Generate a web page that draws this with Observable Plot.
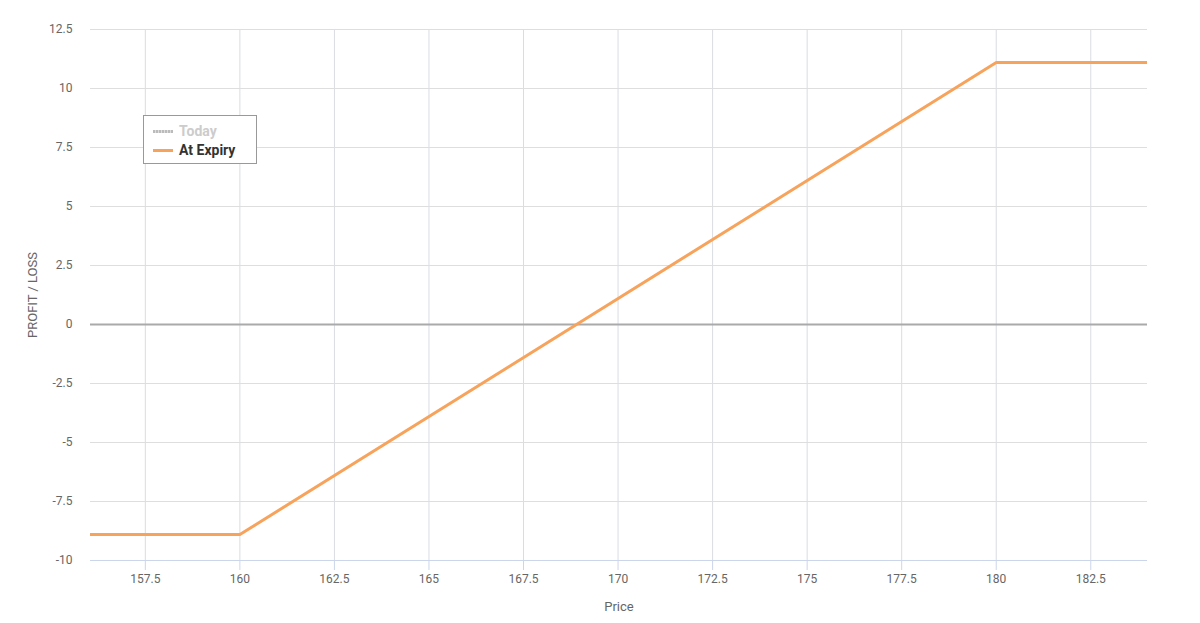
<!DOCTYPE html>
<html>
<head>
<meta charset="utf-8">
<script src="https://cdn.jsdelivr.net/npm/d3@7"></script>
<script src="https://cdn.jsdelivr.net/npm/@observablehq/plot@0.6"></script>
<style>
  html, body { margin: 0; padding: 0; background: #fff; }
  #wrap { position: relative; width: 1200px; height: 623px; }
  #legend {
    position: absolute; left: 143px; top: 115px; width: 112px; height: 47px;
    border: 1px solid #999; background: #fff; box-sizing: content-box;
    font-family: "Liberation Sans Narrow", "Roboto", sans-serif; font-size: 14px; font-weight: bold;
  }
  .item { position: absolute; left: 9px; display: flex; align-items: center; }
  .sym { width: 20px; height: 3px; margin-right: 6px; }
</style>
</head>
<body>
<div id="wrap">
  <div id="chart"></div>
  <div id="legend"></div>
</div>
<script>
// Data (bull call spread, At Expiry P/L)
const prices = [156, 160, 180, 184];
const expiryPL = [-8.9, -8.9, 11.1, 11.1];
const xTicks = [157.5, 160, 162.5, 165, 167.5, 170, 172.5, 175, 177.5, 180, 182.5];
const yTicks = [-10, -7.5, -5, -2.5, 0, 2.5, 5, 7.5, 10, 12.5];
const seriesNames = ["Today", "At Expiry"];
const seriesColors = ["#cccccc", "#f7a35c"];
const xDomain = [156.05, 184];
const yDomain = [-10, 12.5];

const rows = prices.map((p, i) => ({price: p, pl: expiryPL[i]}));
const font = '"Liberation Sans Narrow", "Roboto", sans-serif';

const chart = Plot.plot({
  width: 1200,
  height: 623,
  marginLeft: 90,
  marginRight: 53,
  marginTop: 29,
  marginBottom: 63,
  style: {fontFamily: font, fontSize: "12px", color: "#555", background: "#fff"},
  x: {domain: xDomain, ticks: xTicks, label: null},
  y: {domain: yDomain, ticks: yTicks, label: null},
  marks: [
    Plot.ruleX(xTicks, {stroke: "#d9dce2", strokeWidth: 1}),
    Plot.ruleY(yTicks.filter(d => d !== -10 && d !== 0), {stroke: "#dedede", strokeWidth: 1}),
    Plot.ruleY([0], {stroke: "#aaaaaa", strokeWidth: 2}),
    Plot.ruleY([-10], {stroke: "#ccd6eb", strokeWidth: 1}),
    Plot.axisX({ticks: xTicks, tickSize: 10, tickPadding: 4, stroke: "#ccd6eb", fill: "#666",
      tickFormat: d => String(d), fontSize: 12, label: null}),
    Plot.axisY({ticks: yTicks, tickSize: 0, tickPadding: 18, fill: "#666",
      tickFormat: d => String(d), fontSize: 12, label: null}),
    Plot.text(["Price"], {frameAnchor: "bottom", dy: 46, fill: "#666", fontSize: 13, textAnchor: "middle", lineAnchor: "middle"}),
    Plot.text(["PROFIT / LOSS"], {frameAnchor: "left", dx: -58, rotate: -90, fill: "#666", fontSize: 13, textAnchor: "middle", lineAnchor: "middle"}),
    Plot.line(rows, {x: "price", y: "pl", stroke: seriesColors[1], strokeWidth: 3, clip: true})
  ]
});
document.getElementById("chart").appendChild(chart);

const legend = document.getElementById("legend");
seriesNames.forEach((name, i) => {
  const it = document.createElement("div");
  it.className = "item";
  it.style.top = (i === 0 ? 7 : 26) + "px";
  const sym = document.createElement("div");
  sym.className = "sym";
  if (i === 0) {
    sym.style.background = "repeating-linear-gradient(90deg, #bbb 0 2px, #ddd 2px 3px)";
  } else {
    sym.style.background = seriesColors[i];
  }
  const lab = document.createElement("span");
  lab.textContent = name;
  lab.style.color = i === 0 ? "#cccccc" : "#333333";
  it.appendChild(sym);
  it.appendChild(lab);
  legend.appendChild(it);
});
</script>
</body>
</html>
